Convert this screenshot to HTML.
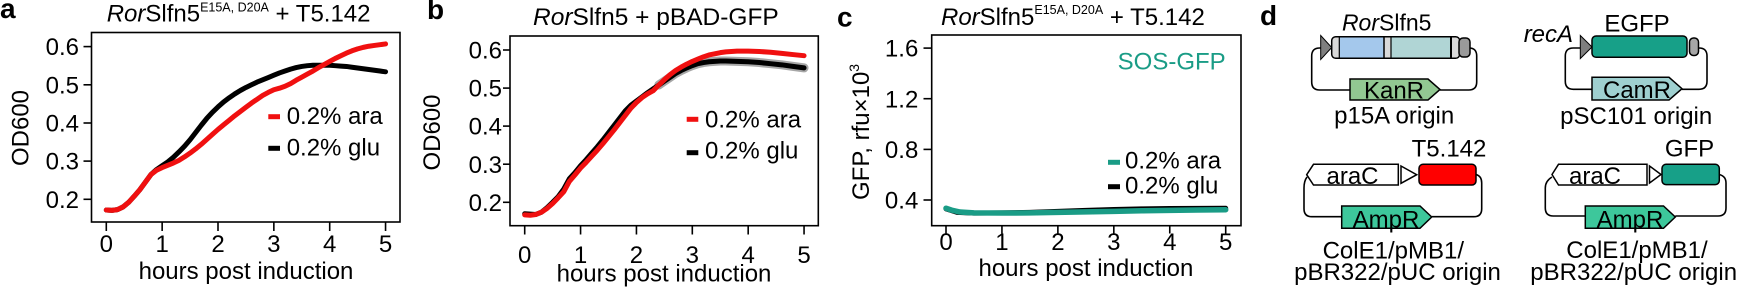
<!DOCTYPE html>
<html><head><meta charset="utf-8"><style>
html,body{margin:0;padding:0;background:#fff;}
svg{display:block;}
text{font-family:"Liberation Sans",Arial,sans-serif;fill:#000;}
</style></head><body>
<svg width="1744" height="290" viewBox="0 0 1744 290" xmlns="http://www.w3.org/2000/svg">
<rect width="1744" height="290" fill="#fff"/>

<!-- Panel labels -->
<text x="0" y="18" font-size="28" font-weight="bold">a</text>
<text x="427" y="19" font-size="28" font-weight="bold">b</text>
<text x="837" y="26.7" font-size="28" font-weight="bold">c</text>
<text x="1260" y="25" font-size="28" font-weight="bold">d</text>

<!-- ===== Panel a ===== -->
<text x="106.7" y="21.7" font-size="24"><tspan font-style="italic">Ror</tspan>Slfn5<tspan font-size="12.5" dy="-10">E15A, D20A</tspan><tspan dy="10"> + T5.142</tspan></text>
<rect x="91.5" y="32.5" width="308.5" height="189.5" fill="none" stroke="#000" stroke-width="1.6"/>
<g stroke="#000" stroke-width="1.6">
<line x1="83.5" x2="91.5" y1="199.3" y2="199.3"/><line x1="83.5" x2="91.5" y1="161.1" y2="161.1"/><line x1="83.5" x2="91.5" y1="123" y2="123"/><line x1="83.5" x2="91.5" y1="84.8" y2="84.8"/><line x1="83.5" x2="91.5" y1="46.6" y2="46.6"/>
<line x1="106.3" x2="106.3" y1="222" y2="231"/><line x1="162.15" x2="162.15" y1="222" y2="231"/><line x1="218" x2="218" y1="222" y2="231"/><line x1="273.85" x2="273.85" y1="222" y2="231"/><line x1="329.7" x2="329.7" y1="222" y2="231"/><line x1="385.55" x2="385.55" y1="222" y2="231"/>
</g>
<g font-size="24" text-anchor="end">
<text x="79" y="207.9">0.2</text><text x="79" y="169.7">0.3</text><text x="79" y="131.6">0.4</text><text x="79" y="93.4">0.5</text><text x="79" y="55.2">0.6</text>
</g>
<g font-size="24" text-anchor="middle">
<text x="106.3" y="252">0</text><text x="162.15" y="252">1</text><text x="218" y="252">2</text><text x="273.85" y="252">3</text><text x="329.7" y="252">4</text><text x="385.55" y="252">5</text>
<text x="246" y="279">hours post induction</text>
<text transform="translate(28.5,128) rotate(-90)" x="0" y="0">OD600</text>
</g>
<g transform="translate(106.3,199.3) scale(55.85,-381.75) translate(0,-0.2)" fill="none" stroke-linejoin="round" stroke-linecap="round">
<polyline vector-effect="non-scaling-stroke" stroke="#000" stroke-width="5" points="0,0.172 0.1,0.171 0.2,0.173 0.3,0.18 0.4,0.192 0.5,0.208 0.6,0.225 0.7,0.245 0.8,0.265 0.9,0.278 1,0.288 1.1,0.298 1.2,0.31 1.3,0.324 1.4,0.339 1.5,0.356 1.6,0.375 1.7,0.394 1.8,0.412 1.9,0.428 2,0.442 2.1,0.455 2.2,0.466 2.3,0.476 2.4,0.485 2.5,0.493 2.6,0.5 2.7,0.507 2.8,0.513 2.9,0.519 3,0.525 3.1,0.531 3.2,0.536 3.3,0.541 3.4,0.545 3.5,0.548 3.6,0.55 3.7,0.551 3.8,0.551 3.9,0.551 4,0.551 4.1,0.55 4.2,0.549 4.3,0.548 4.4,0.546 4.5,0.544 4.6,0.542 4.7,0.54 4.8,0.538 4.9,0.536 5,0.534"/>
<polyline vector-effect="non-scaling-stroke" stroke="#f01010" stroke-width="5" points="0,0.172 0.1,0.171 0.2,0.173 0.3,0.18 0.4,0.192 0.5,0.208 0.6,0.225 0.7,0.245 0.8,0.265 0.9,0.276 1,0.283 1.1,0.289 1.2,0.295 1.3,0.302 1.4,0.311 1.5,0.321 1.6,0.332 1.7,0.344 1.8,0.357 1.9,0.37 2,0.383 2.1,0.395 2.2,0.407 2.3,0.419 2.4,0.43 2.5,0.441 2.6,0.452 2.7,0.462 2.8,0.472 2.9,0.48 3,0.487 3.1,0.491 3.2,0.496 3.3,0.503 3.4,0.512 3.5,0.52 3.6,0.528 3.7,0.536 3.8,0.545 3.9,0.553 4,0.561 4.1,0.569 4.2,0.576 4.3,0.583 4.4,0.589 4.5,0.594 4.6,0.598 4.7,0.601 4.8,0.603 4.9,0.605 5,0.607"/>
</g>
<line x1="268.3" x2="280" y1="116.7" y2="116.7" stroke="#f01010" stroke-width="5"/>
<line x1="268.3" x2="280" y1="148.3" y2="148.3" stroke="#000" stroke-width="5"/>
<text x="286.7" y="124" font-size="24">0.2% ara</text>
<text x="286.7" y="155.7" font-size="24">0.2% glu</text>

<!-- ===== Panel b ===== -->
<text x="533" y="25" font-size="24.5"><tspan font-style="italic">Ror</tspan>Slfn5 + pBAD-GFP</text>
<rect x="510" y="36" width="308.3" height="189.7" fill="none" stroke="#000" stroke-width="1.6"/>
<g stroke="#000" stroke-width="1.6">
<line x1="503" x2="510" y1="202.3" y2="202.3"/><line x1="503" x2="510" y1="164.2" y2="164.2"/><line x1="503" x2="510" y1="126.1" y2="126.1"/><line x1="503" x2="510" y1="88.1" y2="88.1"/><line x1="503" x2="510" y1="50" y2="50"/>
<line x1="524.7" x2="524.7" y1="225.7" y2="234.5"/><line x1="580.57" x2="580.57" y1="225.7" y2="234.5"/><line x1="636.44" x2="636.44" y1="225.7" y2="234.5"/><line x1="692.31" x2="692.31" y1="225.7" y2="234.5"/><line x1="748.18" x2="748.18" y1="225.7" y2="234.5"/><line x1="804.05" x2="804.05" y1="225.7" y2="234.5"/>
</g>
<g font-size="24" text-anchor="end">
<text x="502" y="210.9">0.2</text><text x="502" y="172.8">0.3</text><text x="502" y="134.7">0.4</text><text x="502" y="96.7">0.5</text><text x="502" y="58.6">0.6</text>
</g>
<g font-size="24" text-anchor="middle">
<text x="524.7" y="263">0</text><text x="580.57" y="263">1</text><text x="636.44" y="263">2</text><text x="692.31" y="263">3</text><text x="748.18" y="263">4</text><text x="804.05" y="263">5</text>
<text x="664" y="281.7">hours post induction</text>
<text transform="translate(440,132.5) rotate(-90)" x="0" y="0">OD600</text>
</g>
<g transform="translate(524.7,202.3) scale(55.87,-380.8) translate(0,-0.2)" fill="none" stroke-linejoin="round" stroke-linecap="round">
<polyline vector-effect="non-scaling-stroke" stroke="#8a8a8a" stroke-opacity="0.75" stroke-width="9" points="2.4,0.508 2.5,0.518 2.6,0.528 2.7,0.538 2.8,0.546 2.9,0.553 3,0.559 3.1,0.564 3.2,0.567 3.3,0.569 3.4,0.57 3.5,0.571 3.6,0.571 3.8,0.57 4,0.569 4.2,0.567 4.4,0.564 4.6,0.561 4.8,0.557 5,0.553"/>
<polyline vector-effect="non-scaling-stroke" stroke="#000" stroke-width="5" points="0,0.17 0.2,0.168 0.3,0.174 0.4,0.186 0.5,0.2 0.6,0.215 0.7,0.235 0.8,0.262 0.9,0.278 1,0.296 1.1,0.312 1.2,0.329 1.3,0.346 1.4,0.364 1.5,0.383 1.6,0.402 1.7,0.421 1.8,0.44 1.9,0.455 2,0.466 2.1,0.477 2.2,0.488 2.3,0.498 2.4,0.508 2.5,0.518 2.6,0.528 2.7,0.538 2.8,0.546 2.9,0.553 3,0.559 3.1,0.564 3.2,0.567 3.3,0.569 3.4,0.57 3.5,0.571 3.6,0.571 3.8,0.57 4,0.569 4.2,0.567 4.4,0.564 4.6,0.561 4.8,0.557 5,0.553"/>
<polyline vector-effect="non-scaling-stroke" stroke="#f01010" stroke-width="5" points="0,0.167 0.1,0.166 0.2,0.168 0.3,0.174 0.4,0.184 0.5,0.197 0.6,0.212 0.7,0.228 0.8,0.255 0.9,0.272 1,0.29 1.1,0.305 1.2,0.321 1.3,0.337 1.4,0.354 1.5,0.372 1.6,0.39 1.7,0.409 1.8,0.428 1.9,0.447 2,0.462 2.1,0.475 2.2,0.485 2.3,0.493 2.4,0.508 2.5,0.522 2.6,0.535 2.7,0.546 2.8,0.555 2.9,0.563 3,0.57 3.1,0.576 3.2,0.582 3.3,0.587 3.4,0.59 3.5,0.593 3.6,0.595 3.7,0.596 3.8,0.597 3.9,0.597 4,0.597 4.2,0.596 4.4,0.594 4.6,0.591 4.8,0.588 5,0.585"/>
</g>
<line x1="686.7" x2="698.3" y1="119.3" y2="119.3" stroke="#f01010" stroke-width="5"/>
<line x1="686.7" x2="698.3" y1="152.7" y2="152.7" stroke="#000" stroke-width="5"/>
<text x="705" y="127.7" font-size="24">0.2% ara</text>
<text x="705" y="158.3" font-size="24">0.2% glu</text>

<!-- ===== Panel c ===== -->
<text x="941" y="25" font-size="24"><tspan font-style="italic">Ror</tspan>Slfn5<tspan font-size="12.5" dy="-11">E15A, D20A</tspan><tspan dy="11"> + T5.142</tspan></text>
<rect x="931.7" y="35" width="309.3" height="190.7" fill="none" stroke="#000" stroke-width="1.6"/>
<g stroke="#000" stroke-width="1.6">
<line x1="923.5" x2="931.7" y1="200" y2="200"/><line x1="923.5" x2="931.7" y1="149.4" y2="149.4"/><line x1="923.5" x2="931.7" y1="98.7" y2="98.7"/><line x1="923.5" x2="931.7" y1="48.1" y2="48.1"/>
<line x1="946" x2="946" y1="225.7" y2="233.5"/><line x1="1001.94" x2="1001.94" y1="225.7" y2="233.5"/><line x1="1057.88" x2="1057.88" y1="225.7" y2="233.5"/><line x1="1113.82" x2="1113.82" y1="225.7" y2="233.5"/><line x1="1169.76" x2="1169.76" y1="225.7" y2="233.5"/><line x1="1225.7" x2="1225.7" y1="225.7" y2="233.5"/>
</g>
<g font-size="24" text-anchor="end">
<text x="918.3" y="208.6">0.4</text><text x="918.3" y="158">0.8</text><text x="918.3" y="107.3">1.2</text><text x="918.3" y="56.7">1.6</text>
</g>
<g font-size="24" text-anchor="middle">
<text x="946" y="250">0</text><text x="1001.94" y="250">1</text><text x="1057.88" y="250">2</text><text x="1113.82" y="250">3</text><text x="1169.76" y="250">4</text><text x="1225.7" y="250">5</text>
<text x="1085.9" y="276">hours post induction</text>
</g>
<text transform="translate(869,200) rotate(-90)" x="0" y="0" font-size="24">GFP, rfu×10<tspan font-size="14" dy="-10">3</tspan></text>
<g transform="translate(946,200) scale(55.94,-126.6) translate(0,-0.4)" fill="none" stroke-linejoin="round" stroke-linecap="round">
<polyline vector-effect="non-scaling-stroke" stroke="#000" stroke-width="5" points="0,0.33 0.2,0.302 0.5,0.296 1,0.298 1.5,0.302 2,0.31 2.5,0.318 3,0.325 3.5,0.33 4,0.333 4.5,0.334 5,0.335"/>
<polyline vector-effect="non-scaling-stroke" stroke="#1a9c86" stroke-width="5.5" points="0,0.335 0.1,0.32 0.25,0.305 0.5,0.298 1,0.297 1.5,0.298 2,0.302 2.5,0.306 3,0.31 3.5,0.315 4,0.318 4.5,0.321 5,0.323"/>
</g>
<text x="1225.7" y="69.3" font-size="24" text-anchor="end" style="fill:#1a9c86">SOS-GFP</text>
<line x1="1108" x2="1120" y1="162.3" y2="162.3" stroke="#1a9c86" stroke-width="5"/>
<line x1="1108" x2="1120" y1="186.7" y2="186.7" stroke="#000" stroke-width="5"/>
<text x="1125" y="168.3" font-size="24">0.2% ara</text>
<text x="1125" y="193.3" font-size="24">0.2% glu</text>

<!-- ===== Panel d ===== -->
<!-- top-left: p15A -->
<path d="M1321,48 H1319.7 Q1311.7,48 1311.7,56 V82 Q1311.7,90 1319.7,90 H1350 M1440,90 H1468.7 Q1476.7,90 1476.7,82 V56 Q1476.7,48 1469,48" fill="none" stroke="#000" stroke-width="1.6"/>
<rect x="1331.7" y="36.7" width="128" height="21.6" rx="4" fill="#d9d9d9" stroke="#000" stroke-width="1.5"/>
<rect x="1339.3" y="37.5" width="44.5" height="20" fill="#a4c8ec"/>
<rect x="1391.5" y="37.5" width="59.3" height="20" fill="#b0d5d5"/>
<g stroke="#000">
<line x1="1339.3" x2="1339.3" y1="37" y2="58" stroke-width="1.2"/>
<line x1="1384" x2="1384" y1="37" y2="58" stroke-width="1.5"/>
<line x1="1391" x2="1391" y1="37" y2="58" stroke-width="1.2"/>
<line x1="1451" x2="1451" y1="37" y2="58" stroke-width="2"/>
</g>
<rect x="1459" y="38" width="11" height="19" rx="4" fill="#9a9a9a" stroke="#000" stroke-width="1.5"/>
<polygon points="1320.7,35.5 1331.7,47.5 1320.7,59.5" fill="#7f7f7f" stroke="#000" stroke-width="1"/>
<polygon points="1350,79 1428,79 1440,89.5 1428,100 1350,100" fill="#92c892" stroke="#000" stroke-width="1.5"/>
<text x="1394" y="98.5" font-size="24" text-anchor="middle">KanR</text>
<text x="1386.7" y="30.7" font-size="23" text-anchor="middle"><tspan font-style="italic">Ror</tspan>Slfn5</text>
<text x="1394.2" y="123.3" font-size="24" text-anchor="middle">p15A origin</text>

<!-- top-right: pSC101 -->
<path d="M1580,48 H1573.3 Q1565.3,48 1565.3,56 V81.3 Q1565.3,89.3 1573.3,89.3 H1592 M1682,89.3 H1699 Q1707,89.3 1707,81.3 V56 Q1707,48 1699,48 H1698.5" fill="none" stroke="#000" stroke-width="1.6"/>
<polygon points="1580.3,35.5 1592,47 1580.3,58.5" fill="#7f7f7f" stroke="#000" stroke-width="1"/>
<rect x="1592" y="36" width="95" height="21.3" rx="4" fill="#17a088" stroke="#000" stroke-width="1.5"/>
<rect x="1689.5" y="38" width="9" height="17.5" rx="4" fill="#a6a6a6" stroke="#000" stroke-width="1.5"/>
<polygon points="1592,77.3 1669,77.3 1682,88.7 1669,100 1592,100" fill="#9fd0d0" stroke="#000" stroke-width="1.5"/>
<text x="1637" y="98" font-size="24" text-anchor="middle">CamR</text>
<text x="1637" y="31.7" font-size="24" text-anchor="middle">EGFP</text>
<text x="1523.7" y="42" font-size="24" font-style="italic">recA</text>
<text x="1636.2" y="124" font-size="24" text-anchor="middle">pSC101 origin</text>

<!-- bottom-left: T5.142 -->
<path d="M1307,177 Q1304,181 1304,188 V208.7 Q1304,216.7 1312,216.7 H1341.7 M1431.7,216.7 H1473.7 Q1481.7,216.7 1481.7,208.7 V183 Q1481.7,176 1476,174.5" fill="none" stroke="#000" stroke-width="1.6"/>
<polygon points="1306.7,174.7 1313.5,164.3 1398.3,164.3 1398.3,185 1313.5,185" fill="#fff" stroke="#000" stroke-width="1.5"/>
<polygon points="1401,166 1416.7,174.7 1401,183.3" fill="#fff" stroke="#000" stroke-width="1.5"/>
<rect x="1419" y="164.3" width="57" height="20.7" rx="4" fill="#ff0000" stroke="#000" stroke-width="1.5"/>
<polygon points="1341.7,206 1420,206 1431.7,217 1420,228.3 1341.7,228.3" fill="#3dc79b" stroke="#000" stroke-width="1.5"/>
<text x="1386" y="227.5" font-size="24" text-anchor="middle">AmpR</text>
<text x="1352.5" y="184" font-size="24" text-anchor="middle">araC</text>
<text x="1449" y="156.7" font-size="24" text-anchor="middle">T5.142</text>
<text x="1393.3" y="258.3" font-size="24" text-anchor="middle">ColE1/pMB1/</text>
<text x="1397.5" y="280" font-size="24" text-anchor="middle">pBR322/pUC origin</text>

<!-- bottom-right: GFP -->
<path d="M1552,177 Q1545.3,181 1545.3,188 V208 Q1545.3,216 1553.3,216 H1585.3 M1675.3,216 H1718 Q1726,216 1726,208 V183 Q1726,176 1719,174.5" fill="none" stroke="#000" stroke-width="1.6"/>
<polygon points="1552,174.5 1558.5,164.3 1647,164.3 1647,185 1558.5,185" fill="#fff" stroke="#000" stroke-width="1.5"/>
<polygon points="1649.5,166 1661,174.5 1649.5,183" fill="#fff" stroke="#000" stroke-width="1.5"/>
<rect x="1662" y="164.3" width="57.3" height="20.3" rx="4" fill="#17a088" stroke="#000" stroke-width="1.5"/>
<polygon points="1585.3,206 1663.5,206 1675.3,217 1663.5,228.3 1585.3,228.3" fill="#3dc79b" stroke="#000" stroke-width="1.5"/>
<text x="1630" y="227.5" font-size="24" text-anchor="middle">AmpR</text>
<text x="1595" y="184" font-size="24" text-anchor="middle">araC</text>
<text x="1689.5" y="156.7" font-size="24" text-anchor="middle">GFP</text>
<text x="1637" y="258" font-size="24" text-anchor="middle">ColE1/pMB1/</text>
<text x="1530.3" y="280" font-size="24">pBR322/pUC origin</text>
</svg>
</body></html>
